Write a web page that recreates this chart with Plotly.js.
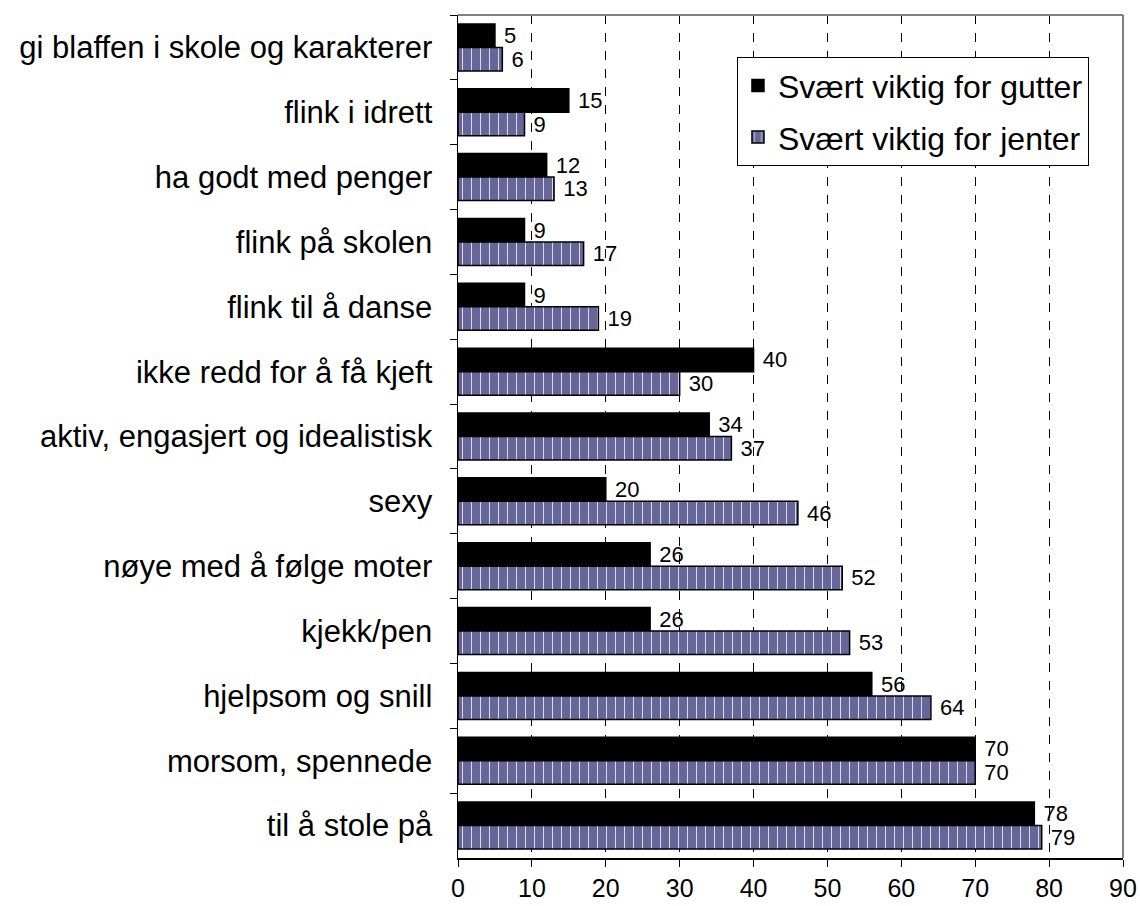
<!DOCTYPE html>
<html>
<head>
<meta charset="utf-8">
<script src="https://cdn.plot.ly/plotly-3.0.1.min.js"></script>
<style>
  body { margin: 0; background: white; }
  #graf { width: 1140px; height: 906px; }
</style>
</head>
<body>
<div id="graf"></div>
<script>
// categories listed from top to bottom (as in the picture)
var kategorier = [
    "gi blaffen i skole og karakterer",
    "flink i idrett",
    "ha godt med penger",
    "flink på skolen",
    "flink til å danse",
    "ikke redd for å få kjeft",
    "aktiv, engasjert og idealistisk",
    "sexy",
    "nøye med å følge moter",
    "kjekk/pen",
    "hjelpsom og snill",
    "morsom, spennede",
    "til å stole på"
];

// percent "svært viktig"
var gutter = [5, 15, 12, 9, 9, 40, 34, 20, 26, 26, 56, 70, 78];
var jenter = [6, 9, 13, 17, 19, 30, 37, 46, 52, 53, 64, 70, 79];

var xTicks = [0, 10, 20, 30, 40, 50, 60, 70, 80, 90];

var fontNavn = "Liberation Sans, Arial, sans-serif";

// small gap between bar end and its value (non-breaking space in front)
function etikett(v) { return '\u00a0' + v; }

var traceGutter = {
    type: 'bar', orientation: 'h',
    name: 'Svært viktig for gutter', legendgroup: 'g',
    y: kategorier, x: gutter,
    text: gutter.map(etikett), textposition: 'outside', constraintext: 'none',
    textfont: {family: fontNavn, size: 22, color: 'black'},
    marker: {color: 'black', line: {color: 'black', width: 1.5}},
    cliponaxis: false
};

var traceJenter = {
    type: 'bar', orientation: 'h',
    name: 'Svært viktig for jenter', legendgroup: 'j',
    y: kategorier, x: jenter,
    text: jenter.map(etikett), textposition: 'outside', constraintext: 'none',
    textfont: {family: fontNavn, size: 22, color: 'black'},
    marker: {
        color: '#666699',
        line: {color: 'black', width: 1.5},
        pattern: {shape: '|', fgcolor: '#e8e8f4', bgcolor: '#666699', size: 9, solidity: 0.1}
    },
    cliponaxis: false
};

var layout = {
    width: 1140, height: 906,
    margin: {l: 458, r: 17, t: 15, b: 48},
    paper_bgcolor: 'white', plot_bgcolor: 'white',
    font: {family: fontNavn, color: 'black'},
    barmode: 'group',
    bargap: 0.275, bargroupgap: 0,
    showlegend: true,
    legend: {
        x: 0.4195, y: 0.95, xanchor: 'left', yanchor: 'top',
        bgcolor: 'white', bordercolor: 'black', borderwidth: 1,
        font: {family: fontNavn, size: 32},
        traceorder: 'grouped', tracegroupgap: 7, itemwidth: 30
    },
    xaxis: {
        range: [0, 90], tickvals: xTicks, ticktext: xTicks.map(String),
        showgrid: true, gridcolor: 'black', griddash: 'dash', gridwidth: 1,
        ticks: 'outside', ticklen: 7, tickcolor: 'black',
        tickfont: {family: fontNavn, size: 25},
        showline: true, linecolor: 'black', linewidth: 1.5,
        mirror: false, zeroline: false, fixedrange: true
    },
    yaxis: {
        type: 'category', autorange: 'reversed',
        tickson: 'boundaries', ticks: 'outside', ticklen: 7, tickcolor: 'black',
        tickfont: {family: fontNavn, size: 31},
        ticklabelstandoff: 18,
        showline: true, linecolor: 'black', linewidth: 1.5,
        showgrid: false, fixedrange: true
    },
    shapes: [
        // grey frame on top and right side
        {type: 'line', xref: 'paper', yref: 'paper', x0: 0, x1: 1, y0: 1, y1: 1, line: {color: '#808080', width: 2}},
        {type: 'line', xref: 'paper', yref: 'paper', x0: 1, x1: 1, y0: 0, y1: 1, line: {color: '#808080', width: 2}}
    ]
};

Plotly.newPlot('graf', [traceGutter, traceJenter], layout, {displayModeBar: false, staticPlot: true});
</script>
</body>
</html>
